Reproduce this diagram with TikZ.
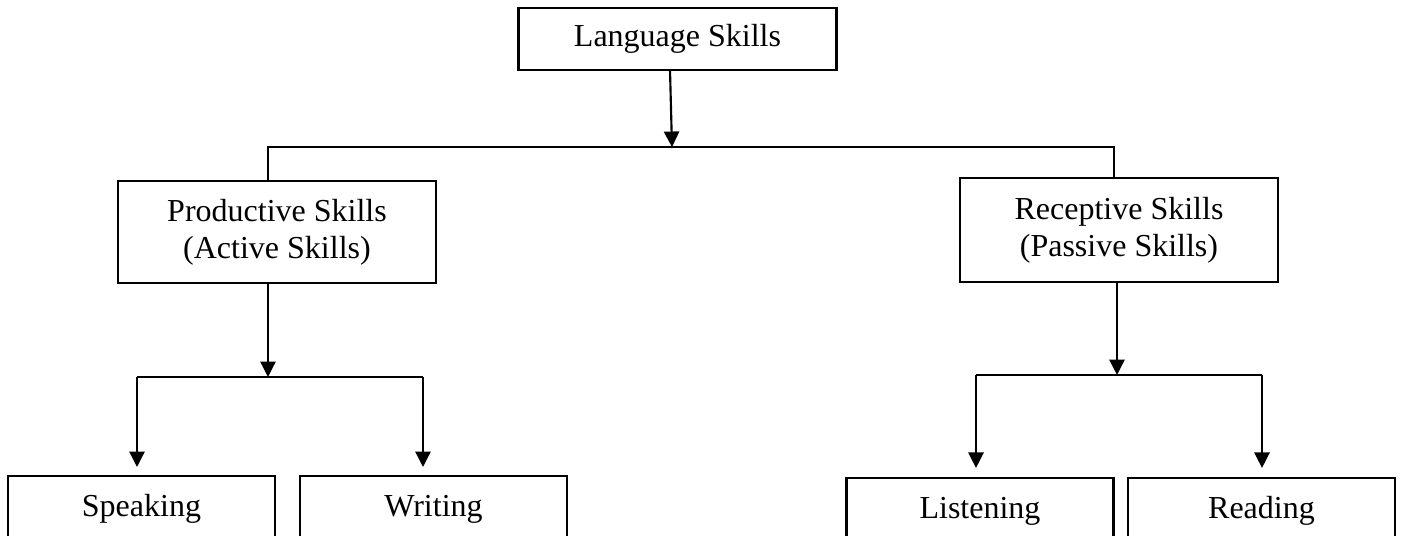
\documentclass[tikz,border=0pt]{standalone}
\usepackage{fontspec}
\setmainfont{Liberation Serif}
\usetikzlibrary{arrows.meta}
\begin{document}
\begin{tikzpicture}[x=0.375pt,y=-0.375pt,
  every node/.style={font=\fontsize{12pt}{13.8pt}\selectfont},
  bigbox/.style={draw,line width=0.85pt,rectangle,inner sep=0pt,minimum width=119.25pt,align=center},
  leafbox/.style={draw,line width=0.85pt,rectangle,inner xsep=0pt,inner ysep=0pt,minimum width=100.1pt,text height=15pt,text depth=15pt,anchor=north},
  link/.style={line width=0.8pt},
  arr/.style={line width=0.8pt,-{Triangle[width=5.7pt,length=5.8pt]}}]
\clip (0,0) rectangle (1403,535);
\fill[white] (0,0) rectangle (1403,535);
% nodes
\node[bigbox,minimum height=23.25pt] (top) at (677.5,39) {Language Skills};
\node[bigbox,minimum height=38.25pt] (prod) at (277,232) {Productive Skills\\(Active Skills)};
\node[bigbox,minimum height=39pt] (rec) at (1119,230) {Receptive Skills\\(Passive Skills)};
\node[leafbox] (spk) at (141.5,475) {Speaking};
\node[leafbox] (wri) at (433.5,475) {Writing};
\node[leafbox] (lis) at (980,477) {Listening};
\node[leafbox] (rea) at (1261.5,477) {Reading};
% junctions
\coordinate (j0) at (672,147);
\coordinate (jl) at (268,147);
\coordinate (jr) at (1114,147);
\coordinate (b1) at (268,377);
\coordinate (b1l) at (137,377);
\coordinate (b1r) at (423,377);
\coordinate (b2) at (1117,375);
\coordinate (b2l) at (976,375);
\coordinate (b2r) at (1262,375);
% connectors
\draw[arr] ([xshift=-2.8pt]top.south) -- (j0);
\draw[link] (prod.north -| jl) -- (jl) -- (jr) -- (rec.north -| jr);
\draw[arr] (prod.south -| b1) -- (b1);
\draw[arr] (rec.south -| b2) -- (b2);
\draw[link] (b1l) -- (b1r);
\draw[link] (b2l) -- (b2r);
\draw[arr,shorten >=3pt] (b1l) -- (spk.north -| b1l);
\draw[arr,shorten >=3pt] (b1r) -- (wri.north -| b1r);
\draw[arr,shorten >=3.4pt] (b2l) -- (lis.north -| b2l);
\draw[arr,shorten >=3.4pt] (b2r) -- (rea.north -| b2r);
\end{tikzpicture}
\end{document}
